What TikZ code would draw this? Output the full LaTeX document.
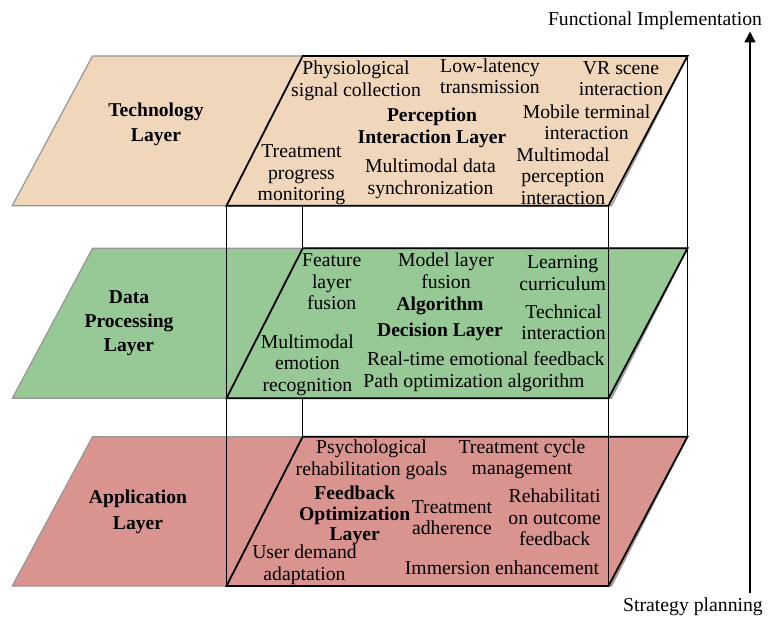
\documentclass[tikz,border=0pt]{standalone}
\usepackage{fontspec}
\setmainfont{Liberation Serif}
\usetikzlibrary{arrows.meta}
\definecolor{techfill}{RGB}{240,214,186}
\definecolor{datafill}{RGB}{150,201,150}
\definecolor{appfill}{RGB}{217,148,144}
\definecolor{edgegray}{RGB}{150,150,150}

\begin{document}
\begin{tikzpicture}[x=1pt,y=-1pt,
  layerbg/.style={draw=edgegray, line width=1.2pt},
  frame/.style={draw=black, line width=1.8pt, line join=miter},
  pillar/.style={draw=black, line width=1.5pt},
  item/.style={inner sep=0pt, align=center, font=\fontsize{19.7}{21.5}\selectfont},
  title/.style={inner sep=0pt, align=center, font=\fontsize{19.6}{25}\selectfont\bfseries},
  axis/.style={line width=1.5pt, -{Triangle[length=11pt,width=11pt]}}]
\useasboundingbox (0,0) rectangle (769,617);

% corners of the two stacked boxes
\coordinate (bl-top) at (302.7,56);  \coordinate (bl-bot) at (302.7,436.7);
\coordinate (br-top) at (687.5,56);  \coordinate (br-bot) at (687.5,436.7);
\coordinate (fl-top) at (226.5,205.7); \coordinate (fl-bot) at (226.5,586);
\coordinate (fr-top) at (608.5,205.7); \coordinate (fr-bot) at (608.5,586);

% back edges, hidden behind the layer planes
\draw[pillar] (bl-top) -- (bl-bot);
\draw[pillar] (br-top) -- (br-bot);

% layer planes
\foreach \t/\b/\c in {56/205.7/techfill, 248.3/398.3/datafill, 436.7/586/appfill}{
  \filldraw[layerbg, fill=\c] (92.5,\t) -- (687.5,\t) -- (611.5,\b) -- (12.3,\b) -- cycle;
}

% front edges
\draw[pillar] (fl-top) -- (fl-bot);
\draw[pillar] (fr-top) -- (fr-bot);

% inner frames of each layer
\foreach \t/\b in {56/205.7, 248.3/398.3, 436.7/586}{
  \draw[frame] (302.7,\t) -- (687.5,\t) -- (608.5,\b) -- (226.5,\b) -- cycle;
}

% technology layer
\node[title] (techlbl) at (156,124) {Technology\\Layer};
\node[item] (physio) at (356,81) {Physiological\\signal collection};
\node[item] (lowlat) at (490,76.5) {Low-latency\\transmission};
\node[item] (vrscene) at (621,78.5) {VR scene\\interaction};
\node[title, font=\fontsize{19.6}{22}\selectfont\bfseries] (percept) at (432,128) {Perception\\Interaction Layer};
\node[item] (mobile) at (586.5,122.5) {Mobile terminal\\interaction};
\node[item] (progress) at (301.5,175) {Treatment\\progress\\monitoring};
\node[item] (sync) at (430.5,179) {Multimodal data\\synchronization};
\node[item] (mmperc) at (563,176) {Multimodal\\perception\\interaction};

% data processing layer
\node[title, font=\fontsize{19.6}{24}\selectfont\bfseries] (datalbl) at (129,323) {Data\\Processing\\Layer};
\node[item] (featfus) at (331.7,282) {Feature\\layer\\fusion};
\node[item] (modelfus) at (446,271) {Model layer\\fusion};
\node[item] (learn) at (562.7,273) {Learning\\curriculum};
\node[title, font=\fontsize{19.6}{25.7}\selectfont\bfseries] (algo) at (440,319) {Algorithm\\Decision Layer};
\node[item] (techint) at (563.5,322.5) {Technical\\interaction};
\node[item] (emorec) at (307.4,365) {Multimodal\\emotion\\recognition};
\node[item] (rtfeed) at (485.7,358.3) {Real-time emotional feedback};
\node[item] (pathopt) at (474,382.7) {Path optimization algorithm};

% application layer
\node[title, font=\fontsize{19.6}{26}\selectfont\bfseries] (applbl) at (138,512) {Application\\Layer};
\node[item] (psych) at (371.5,459.6) {Psychological\\rehabilitation goals};
\node[item] (cycle) at (522,459.5) {Treatment cycle\\management};
\node[title, font=\fontsize{19.6}{20.5}\selectfont\bfseries] (feedopt) at (354.7,515.5) {Feedback\\Optimization\\Layer};
\node[item] (adher) at (452,517.5) {Treatment\\adherence};
\node[item] (rehab) at (554.7,517.7) {Rehabilitati\\on outcome\\feedback};
\node[item] (userdem) at (304.5,565) {User demand\\adaptation};
\node[item] (immers) at (502,568) {Immersion enhancement};

% direction axis
\node[item] (funcimpl) at (655,21) {Functional Implementation};
\node[item] (strat) at (693,606.7) {Strategy planning};
\coordinate (axbot) at (750,593);
\coordinate (axtop) at (750,31.5);
\draw[axis] (axbot) -- (axtop);
\end{tikzpicture}
\end{document}
